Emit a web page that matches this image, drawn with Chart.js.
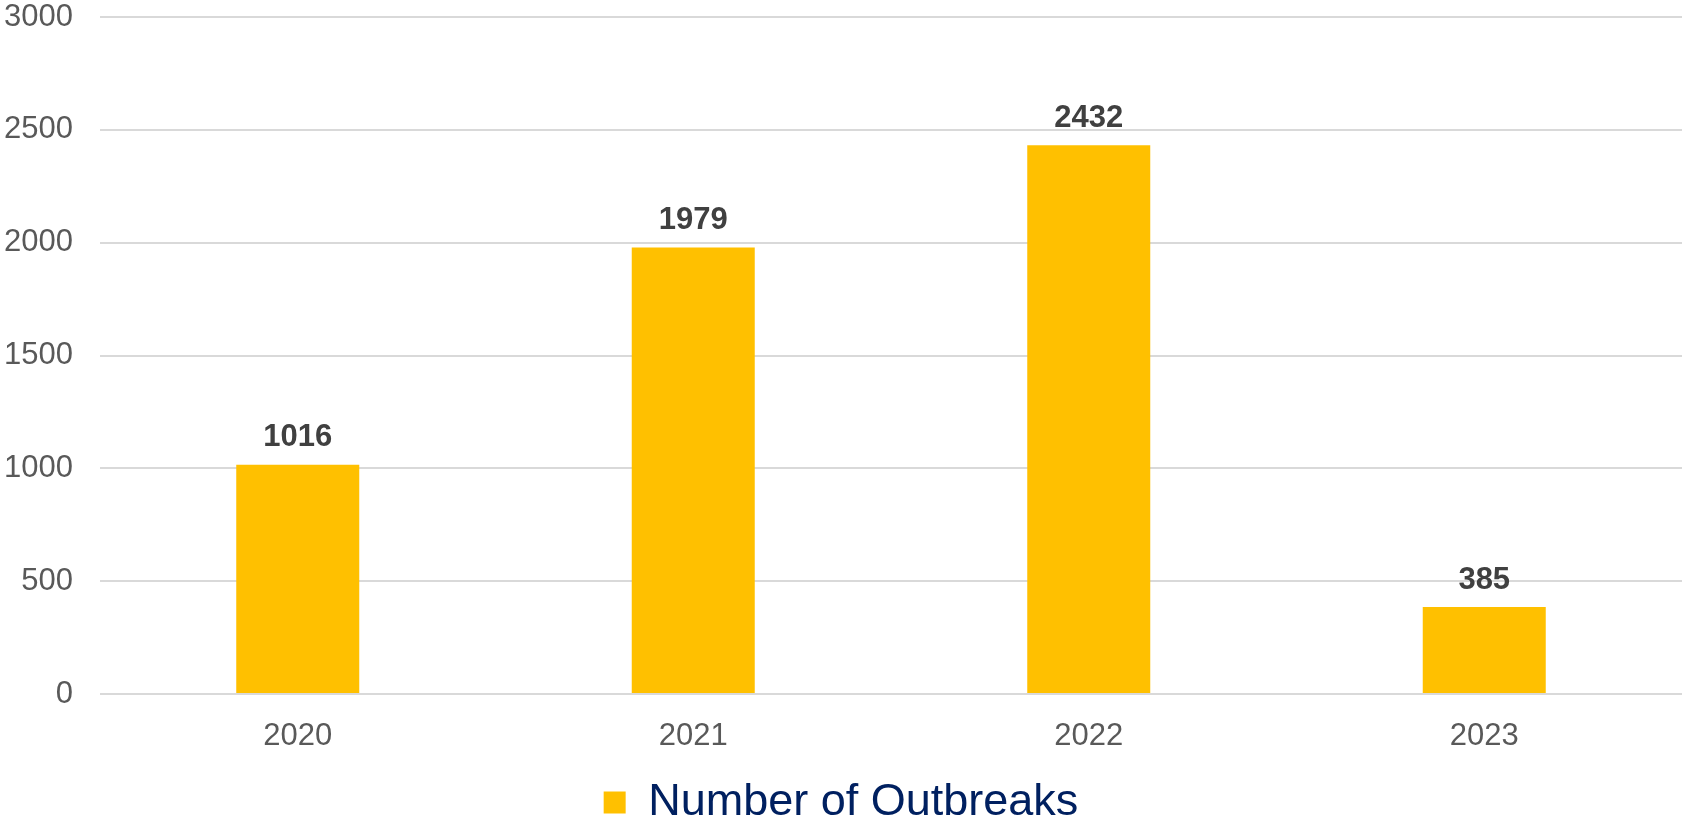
<!DOCTYPE html>
<html>
<head>
<meta charset="utf-8">
<script src="https://cdn.jsdelivr.net/npm/chart.js@4/dist/chart.umd.min.js"></script>
<style>
  html, body { margin: 0; padding: 0; background: #ffffff; overflow: hidden; }
  #wrap { width: 1682px; height: 818px; position: relative; }
</style>
</head>
<body>
<div id="wrap"><canvas id="c"></canvas></div>
<script>
const categories = ['2020', '2021', '2022', '2023'];
const outbreaks = [1016, 1979, 2432, 385];
const seriesName = 'Number of Outbreaks';
const yTicks = [0, 500, 1000, 1500, 2000, 2500, 3000];

const FONT = "'Liberation Sans', Arial, sans-serif";

const valueLabels = {
  id: 'valueLabels',
  afterDatasetsDraw(chart) {
    const ctx = chart.ctx;
    const meta = chart.getDatasetMeta(0);
    ctx.save();
    ctx.font = 'bold 31px ' + FONT;
    ctx.fillStyle = '#404040';
    ctx.textAlign = 'center';
    ctx.textBaseline = 'middle';
    meta.data.forEach((bar, i) => {
      ctx.fillText(String(chart.data.datasets[0].data[i]), bar.x, bar.y - 27);
    });
    ctx.restore();
  }
};

new Chart(document.getElementById('c'), {
  type: 'bar',
  data: {
    labels: categories,
    datasets: [{
      label: seriesName,
      data: outbreaks,
      backgroundColor: '#FFC000',
      borderWidth: 0,
      categoryPercentage: 1.0,
      barPercentage: 0.311
    }]
  },
  options: {
    responsive: true,
    maintainAspectRatio: false,
    animation: false,
    devicePixelRatio: 1,
    layout: { padding: { top: 0, left: 0, right: 0, bottom: -17 } },
    plugins: {
      tooltip: { enabled: false },
      legend: {
        position: 'bottom',
        labels: {
          boxWidth: 22,
          boxHeight: 22,
          padding: 0,
          color: '#002060',
          font: { family: FONT, size: 45 }
        }
      }
    },
    scales: {
      x: {
        grid: { display: false, drawTicks: false },
        border: { display: false },
        ticks: {
          color: '#595959',
          padding: 24,
          font: { family: FONT, size: 31 }
        },
        afterFit(scale) { scale.height = 86; }
      },
      y: {
        min: 0,
        max: 3000,
        afterBuildTicks(scale) { scale.ticks = yTicks.map(v => ({ value: v })); },
        grid: { color: '#d9d9d9', lineWidth: 2, drawTicks: false },
        border: { display: false },
        ticks: {
          color: '#595959',
          padding: 27,
          font: { family: FONT, size: 31 },
          callback: (v) => String(v)
        },
        afterFit(scale) {
          scale.width = 100;
          scale.paddingTop = 17;
          scale.paddingBottom = 0;
        }
      }
    }
  },
  plugins: [valueLabels]
});
</script>
</body>
</html>
